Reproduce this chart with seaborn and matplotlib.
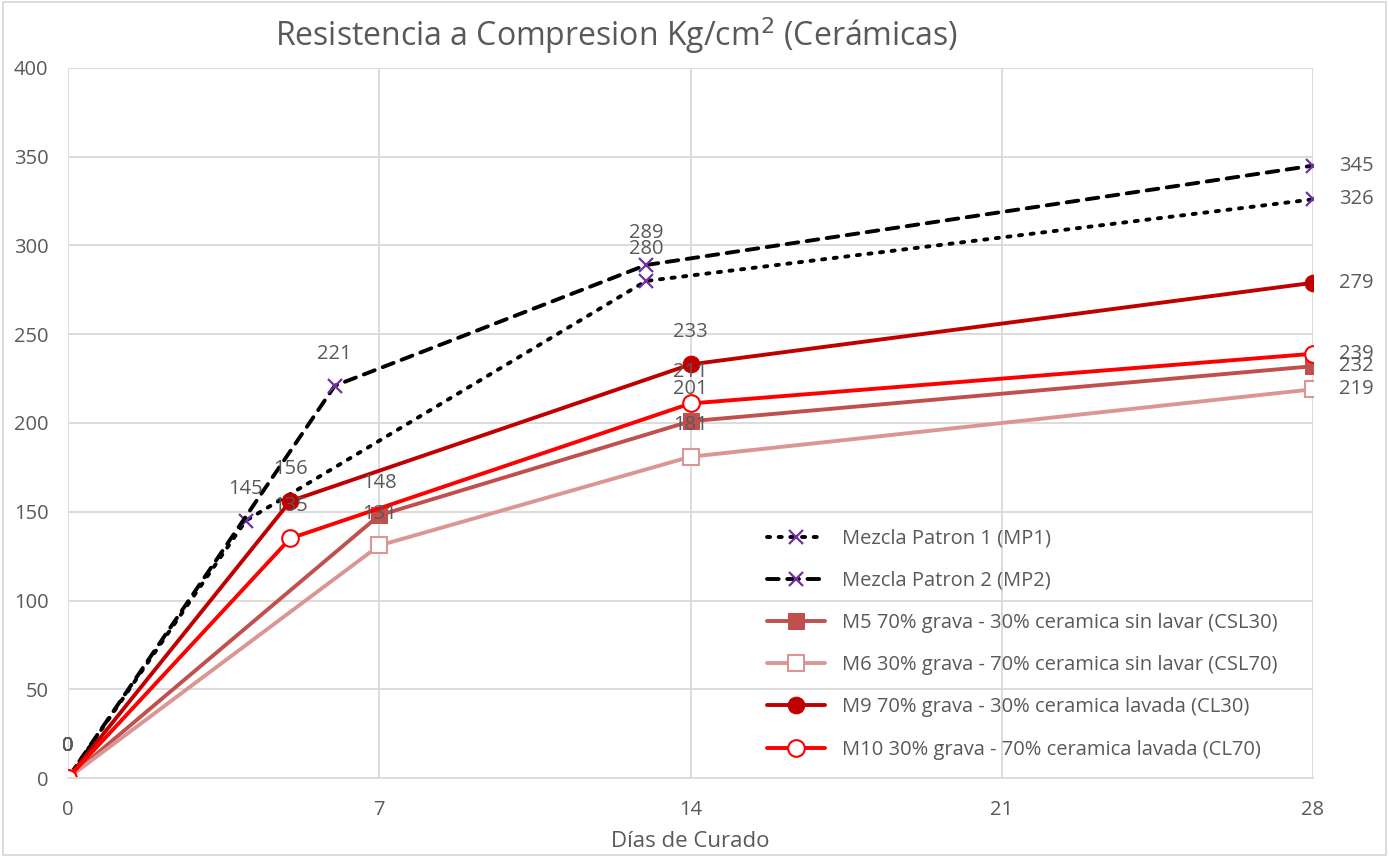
import matplotlib
matplotlib.use("Agg")
import matplotlib.pyplot as plt
import seaborn as sns
from matplotlib.patches import Rectangle

# data
dias_mp1 = [0, 4, 13, 28]
mp1 = [0, 145, 280, 326]
dias_mp2 = [0, 6, 13, 28]
mp2 = [0, 221, 289, 345]
dias_m5 = [0, 7, 14, 28]
m5 = [0, 148, 201, 232]
m6 = [0, 131, 181, 219]
dias_m9 = [0, 5, 14, 28]
m9 = [0, 156, 233, 279]
m10 = [0, 135, 211, 239]

nombres = [
    "Mezcla Patron 1 (MP1)",
    "Mezcla Patron 2 (MP2)",
    "M5 70% grava - 30% ceramica sin lavar (CSL30)",
    "M6 30% grava - 70% ceramica sin lavar (CSL70)",
    "M9 70% grava - 30% ceramica lavada (CL30)",
    "M10 30% grava - 70% ceramica lavada (CL70)",
]
x_ticks = [0, 7, 14, 21, 28]

sns.set_style("white")
plt.rcParams["font.family"] = ["Open Sans", "DejaVu Sans"]
gris = "#595959"

fig = plt.figure(figsize=(13.89, 8.57), dpi=100)
ax = fig.add_axes([68 / 1389, 1 - 778 / 857, (1313 - 68) / 1389, (778 - 68) / 857])

series = [
    (dias_mp1, mp1, dict(color="black", linestyle=(0, (0.8, 2.2)), dash_capstyle="round",
                         marker="x", mec="#7030A0", ms=10, mew=1.6)),
    (dias_mp2, mp2, dict(color="black", linestyle=(0, (3, 2.2)), dash_capstyle="round",
                         marker="x", mec="#7030A0", ms=10, mew=1.6)),
    (dias_m5, m5, dict(color="#C0504D", linestyle="-", marker="s", mfc="#C0504D", mec="#C0504D", ms=12)),
    (dias_m5, m6, dict(color="#DA9694", linestyle="-", marker="s", mfc="white", mec="#DA9694", ms=12, mew=1.5)),
    (dias_m9, m9, dict(color="#C00000", linestyle="-", marker="o", mfc="#C00000", mec="#C00000", ms=12)),
    (dias_m9, m10, dict(color="#FF0000", linestyle="-", marker="o", mfc="white", mec="#FF0000", ms=12, mew=1.5)),
]

for (xs, ys, st), nombre in zip(series, nombres):
    sns.lineplot(x=xs, y=ys, ax=ax, label=nombre, linewidth=2.8, **st)

# data labels: above the points, to the right at day 28
for xs, ys, st in series:
    for xv, yv in zip(xs, ys):
        off = (31, 0) if xv == 28 else (0, 23)
        ax.annotate(str(yv), (xv, yv), xytext=off, textcoords="offset points",
                    ha="center", va="center", fontsize=14.5, color=gris,
                    annotation_clip=False)

ax.set_xlim(0, 28)
ax.set_ylim(0, 400)
ax.set_xticks(x_ticks)
ax.set_yticks(range(0, 401, 50))
ax.grid(True, color="#D9D9D9", linewidth=1.3)
ax.set_axisbelow(True)
for s in ["top", "right", "left"]:
    ax.spines[s].set_visible(False)
ax.spines["bottom"].set_color("#D9D9D9")
ax.spines["bottom"].set_linewidth(1.3)
ax.tick_params(axis="both", labelsize=14.5, labelcolor=gris, length=0)
ax.tick_params(axis="x", pad=16)
ax.tick_params(axis="y", pad=14)
ax.set_xlabel("Días de Curado", fontsize=16, color=gris, labelpad=8)
ax.set_ylabel("")

fig.suptitle("Resistencia a Compresion Kg/cm$^2$ (Cerámicas)", x=0.444, y=0.982,
             fontsize=23, color=gris)

leg = ax.legend(loc="upper left", bbox_to_anchor=(0.5614, 0.351), frameon=False,
                fontsize=14.5, labelcolor=gris, handlelength=2.9, handletextpad=0.84,
                labelspacing=1.1, borderpad=0, borderaxespad=0)

fig.patches.append(Rectangle((0.002, 0.002), 0.996, 0.996, transform=fig.transFigure,
                             fill=False, edgecolor="#D9D9D9", linewidth=1.3))

fig.savefig("out.png", dpi=100)
